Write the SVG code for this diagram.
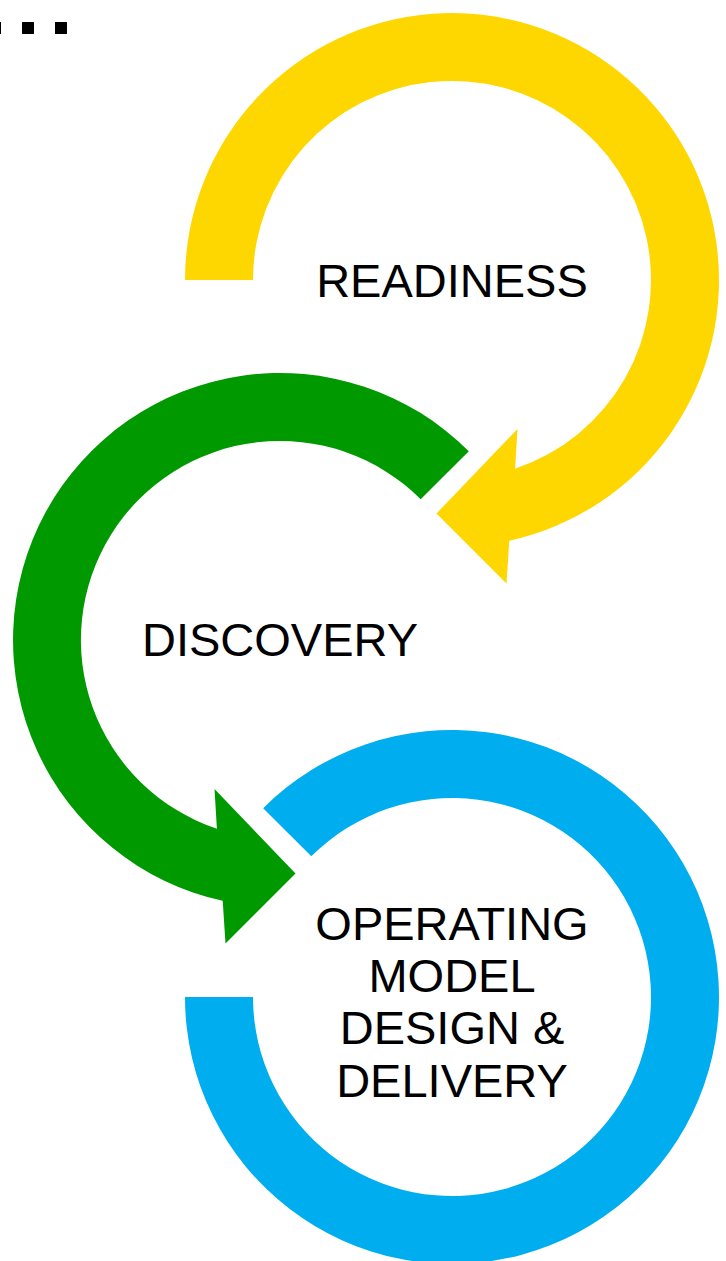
<svg xmlns="http://www.w3.org/2000/svg" width="726" height="1261" viewBox="0 0 726 1261">
<style>
.lbl{font-family:"Liberation Sans",Arial,sans-serif;font-size:47px;fill:#000;text-anchor:middle}
.dot{fill:#000}
</style>
<rect width="726" height="1261" fill="#fff"/>
<g id="dots">
<rect class="dot" x="-11" y="22" width="12" height="12"/>
<rect class="dot" x="22" y="22" width="12" height="12"/>
<rect class="dot" x="55" y="22" width="12" height="12"/>
</g>
<g id="readiness">
<path fill="#FFD700" d="M185,280 A267,267 0 1 1 509.3,540.8 L506.5,583.5 L436.5,513.5 L517.5,429 L515.1,468.7 A199,199 0 1 0 253,280 Z"/>
<text class="lbl" x="452" y="297">READINESS</text>
</g>
<g id="discovery">
<path fill="#009900" d="M468.8,451.2 A267,267 0 1 0 222.7,900.8 L225.5,943.5 L295.5,873.5 L214.5,789 L216.9,828.7 A199,199 0 1 1 420.7,499.3 Z"/>
<text class="lbl" x="280" y="656">DISCOVERY</text>
</g>
<g id="operating-model">
<path fill="#00AEEF" d="M263.2,808.2 A267,267 0 1 1 185,997 L253,997 A199,199 0 1 0 311.3,856.3 Z"/>
<text class="lbl" x="452" y="940">OPERATING</text>
<text class="lbl" x="452" y="992">MODEL</text>
<text class="lbl" x="452" y="1044">DESIGN &amp;</text>
<text class="lbl" x="452" y="1097">DELIVERY</text>
</g>
<g id="connectors"/>
</svg>
